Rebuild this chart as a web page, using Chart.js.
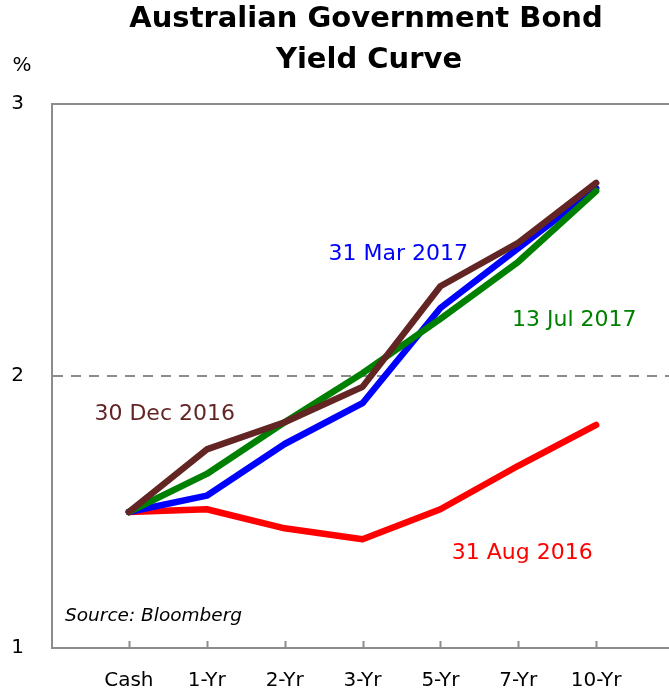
<!DOCTYPE html>
<html>
<head>
<meta charset="utf-8">
<script src="https://cdn.jsdelivr.net/npm/chart.js@4"></script>
<style>
  body { margin: 0; background: #fff; overflow: hidden; }
  /* plot runs off the right edge of the page, as in the original */
  #wrap { width: 690px; height: 690px; position: relative; }
</style>
</head>
<body>
<div id="wrap"><canvas id="yieldChart"></canvas></div>
<script>
var categories = ["Cash", "1-Yr", "2-Yr", "3-Yr", "5-Yr", "7-Yr", "10-Yr"];
var dec2016 = [1.5, 1.73, 1.83, 1.96, 2.33, 2.49, 2.71];
var jul2017 = [1.5, 1.64, 1.83, 2.01, 2.21, 2.42, 2.68];
var mar2017 = [1.5, 1.56, 1.75, 1.90, 2.25, 2.47, 2.69];
var aug2016 = [1.5, 1.51, 1.44, 1.40, 1.51, 1.67, 1.82];
var yTicks = [1, 2, 3];

var FONT = "'DejaVu Sans', sans-serif";
var AXIS_GREY = "#8c8c8c";

function toPoints(arr) {
  return arr.map(function (v, i) { return { x: i, y: v }; });
}

function line(label, values, color) {
  return {
    label: label,
    data: toPoints(values),
    borderColor: color,
    backgroundColor: color,
    borderWidth: 6.5,
    borderCapStyle: "round",
    borderJoinStyle: "round",
    pointRadius: 0,
    tension: 0,
    fill: false
  };
}

// labels next to each curve, in data units
var curveLabels = [
  { text: "31 Mar 2017", x: 3.46, y: 2.449, color: "#0000ff" },
  { text: "13 Jul 2017", x: 5.72, y: 2.206, color: "#008000" },
  { text: "30 Dec 2016", x: 0.46, y: 1.86, color: "#632523" },
  { text: "31 Aug 2016", x: 5.05, y: 1.349, color: "#ff0000" }
];

var extras = {
  id: "extras",
  beforeDatasetsDraw: function (chart) {
    var ctx = chart.ctx, a = chart.chartArea, xs = chart.scales.x;
    ctx.save();
    ctx.strokeStyle = AXIS_GREY;
    ctx.lineWidth = 2;
    // top border
    ctx.beginPath();
    ctx.moveTo(a.left, a.top);
    ctx.lineTo(a.right, a.top);
    ctx.stroke();
    // tick marks inside the bottom axis
    categories.forEach(function (c, i) {
      var px = Math.round(xs.getPixelForValue(i)) + 0.5;
      ctx.beginPath();
      ctx.moveTo(px, a.bottom);
      ctx.lineTo(px, a.bottom - 7);
      ctx.stroke();
    });
    ctx.restore();
  },
  afterDraw: function (chart) {
    var ctx = chart.ctx, xs = chart.scales.x, ys = chart.scales.y;
    ctx.save();
    ctx.textAlign = "center";
    ctx.textBaseline = "middle";
    ctx.fillStyle = "#000";
    ctx.font = "bold 29px " + FONT;
    ctx.fillText("Australian Government Bond", 366, 19);
    ctx.fillText("Yield Curve", 369, 60);

    ctx.font = "20px " + FONT;
    ctx.fillText("%", 22, 66);

    ctx.font = "22px " + FONT;
    curveLabels.forEach(function (l) {
      ctx.fillStyle = l.color;
      ctx.fillText(l.text, xs.getPixelForValue(l.x), ys.getPixelForValue(l.y));
    });

    ctx.fillStyle = "#000";
    ctx.textAlign = "left";
    ctx.font = "oblique 18.5px " + FONT;
    ctx.fillText("Source: Bloomberg", 65, 616);
    ctx.restore();
  }
};

new Chart(document.getElementById("yieldChart"), {
  type: "line",
  data: {
    datasets: [
      line("30 Dec 2016", dec2016, "#632523"),
      line("13 Jul 2017", jul2017, "#008000"),
      line("31 Mar 2017", mar2017, "#0000ff"),
      line("31 Aug 2016", aug2016, "#ff0000")
    ]
  },
  options: {
    responsive: true,
    maintainAspectRatio: false,
    animation: false,
    layout: { padding: { top: 104, right: 0, left: 0, bottom: 0 } },
    plugins: {
      legend: { display: false },
      tooltip: { enabled: false }
    },
    scales: {
      x: {
        type: "linear",
        min: -0.987,
        max: 7.205,
        afterBuildTicks: function (scale) {
          scale.ticks = categories.map(function (c, i) { return { value: i }; });
        },
        afterFit: function (scale) { scale.height = 42; },
        grid: { display: false, drawTicks: false },
        border: { display: true, color: AXIS_GREY, width: 2 },
        ticks: {
          autoSkip: false,
          maxRotation: 0,
          padding: 21,
          color: "#000",
          font: { family: FONT, size: 20 },
          callback: function (v) { return categories[v]; }
        }
      },
      y: {
        min: 1,
        max: 3,
        afterBuildTicks: function (scale) {
          scale.ticks = yTicks.map(function (v) { return { value: v }; });
        },
        afterFit: function (scale) { scale.width = 52; },
        grid: {
          drawTicks: false,
          lineWidth: 2,
          color: function (c) { return c.tick && c.tick.value === 2 ? AXIS_GREY : "rgba(0,0,0,0)"; }
        },
        border: { display: true, color: AXIS_GREY, width: 2, dash: [10, 8] },
        ticks: {
          padding: 28,
          color: "#000",
          font: { family: FONT, size: 20 }
        }
      }
    }
  },
  plugins: [extras]
});
</script>
</body>
</html>
